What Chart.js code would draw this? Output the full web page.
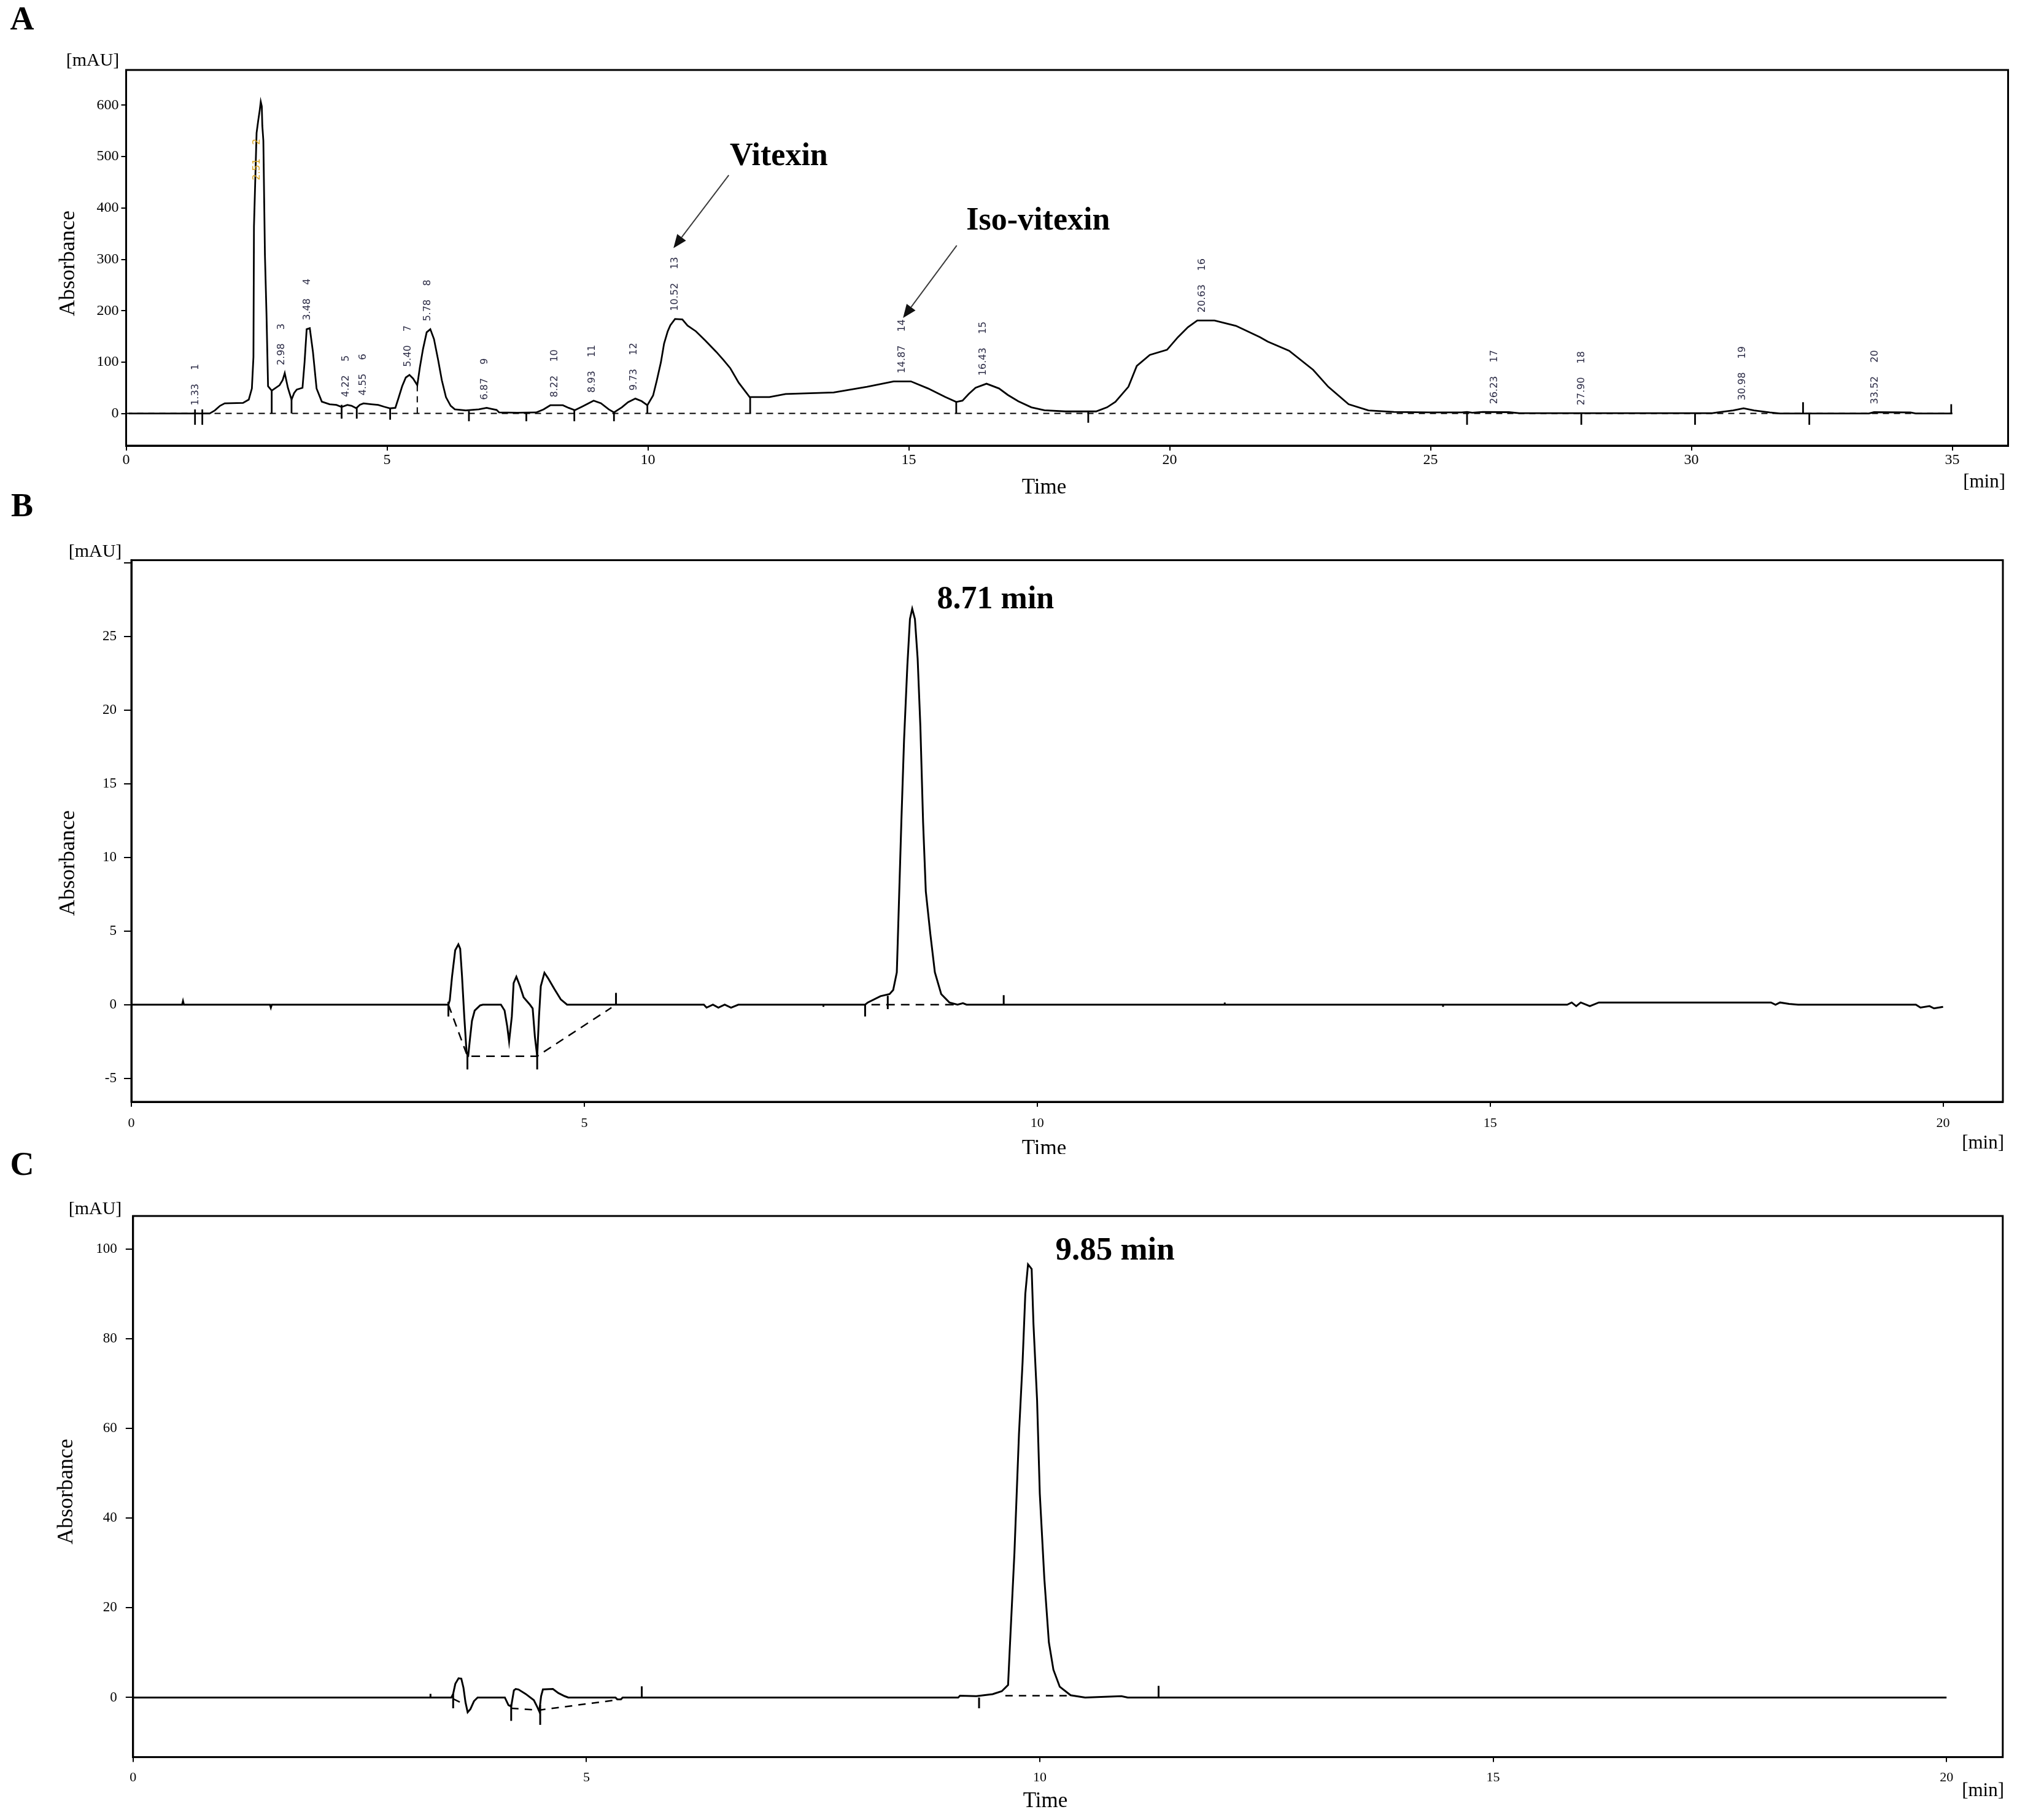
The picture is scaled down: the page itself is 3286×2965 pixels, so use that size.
<!DOCTYPE html>
<html>
<head>
<meta charset="utf-8">
<script src="https://cdn.jsdelivr.net/npm/chart.js@4.4.1/dist/chart.umd.min.js"></script>
<style>
  html, body { margin: 0; padding: 0; background: #fff; }
  body { width: 3286px; height: 2965px; position: relative; overflow: hidden; }
  canvas { position: absolute; left: 0; }
</style>
</head>
<body>
<canvas id="chartA" width="3286" height="830" style="top:0px"></canvas>
<canvas id="chartB" width="3286" height="1090" style="top:790px"></canvas>
<canvas id="chartC" width="3286" height="1105" style="top:1860px"></canvas>
<script>
// ---- Panel A: extract chromatogram (time in min, absorbance in mAU)
const timeA = [0.05, 1.60, 1.70, 1.80, 1.89, 2.00, 2.24, 2.35, 2.41, 2.44, 2.45, 2.50, 2.53, 2.56, 2.58, 2.60, 2.61, 2.63, 2.66, 2.69, 2.72,
  2.79, 2.94, 3.00, 3.04, 3.10, 3.17, 3.22, 3.27, 3.38, 3.42, 3.46, 3.52, 3.58, 3.65, 3.75, 3.90, 4.03, 4.13, 4.24, 4.32, 4.41,
  4.48, 4.55, 4.70, 4.83, 4.95, 5.06, 5.16, 5.22, 5.29, 5.36, 5.43, 5.50, 5.58, 5.63, 5.69, 5.76, 5.83, 5.90, 5.98, 6.05, 6.13,
  6.22, 6.30, 6.51, 6.76, 6.91, 7.00, 7.10, 7.15, 7.50, 7.86, 8.00, 8.13, 8.37, 8.48, 8.60, 8.75, 8.96, 9.10, 9.25, 9.35, 9.50,
  9.62, 9.76, 9.88, 9.99, 10.10, 10.17, 10.25, 10.31, 10.38, 10.43, 10.52, 10.66, 10.76, 10.92, 11.10, 11.31, 11.45, 11.58, 11.74,
  11.95, 12.33, 12.64, 13.56, 14.20, 14.71, 15.04, 15.37, 15.70, 15.91, 16.03, 16.15, 16.28, 16.49, 16.73, 16.90, 17.10, 17.35,
  17.60, 18.00, 18.59, 18.80, 18.96, 19.21, 19.37, 19.62, 19.95, 20.16, 20.35, 20.53, 20.86, 21.27, 21.73, 21.88, 22.29, 22.75,
  23.04, 23.43, 23.81, 24.30, 25.00, 25.60, 25.70, 25.80, 26.00, 26.50, 26.70, 30.40, 30.50, 30.80, 31.00, 31.20, 31.50, 31.70,
  33.40, 33.50, 34.20, 34.30, 35.00];
const absA = [0, 0, 6, 15, 19.7, 20, 20.5, 27, 48.7, 110, 364, 546, 569, 590, 607, 598, 560, 531, 309, 194, 53,
  44.5, 55, 65, 78.5, 50, 27, 40, 46.6, 50, 100, 164, 166, 120, 48.6, 23, 18, 16.7, 12.7, 16.7, 15, 10.3,
  17, 19.7, 18, 16.7, 13, 10, 11, 30, 53, 70, 75, 68, 55, 90, 125.5, 158, 164, 145, 104, 65, 31.7,
  15, 8, 6, 8, 11, 9, 7, 2, 1.5, 2, 8, 16, 16, 11, 6.3, 14, 25, 20, 8, 2, 12,
  22, 29, 24, 16, 35, 64, 100, 136, 160, 171.6, 184, 183, 171, 160, 142, 120, 104, 88, 60,
  32, 32, 38, 41, 52, 62.5, 62.5, 48.7, 32, 22.5, 25, 38, 50, 58, 48.7, 36, 23.7, 12,
  6.2, 4, 4, 12, 22.5, 52, 92.5, 114, 124, 148.7, 168, 181, 181, 170.6, 148.7, 140, 122, 85,
  52, 18, 6, 3, 2, 2, 3, 1.5, 3, 2.5, 0.5, 0.5, 2, 6, 10, 6, 2, 0,
  0, 2.5, 2, 0, 0];
const peakTimesA = ['1.33', '2.51', '2.98', '3.48', '4.22', '4.55', '5.40', '5.78', '6.87', '8.22', '8.93', '9.73', '10.52',
  '14.87', '16.43', '20.63', '26.23', '27.90', '30.98', '33.52'];
const peakNumsA = ['1', '2', '3', '4', '5', '6', '7', '8', '9', '10', '11', '12', '13', '14', '15', '16', '17', '18', '19', '20'];
// integration marks: [time, from, to]
const marksA = [[1.32, 8, -22], [1.46, 8, -22], [2.79, 44, 0], [3.17, 27, 0], [4.13, 17, -10], [4.42, 12, -10], [5.06, 10, -12],
  [6.57, 5, -15], [7.67, 2, -15], [8.59, 6, -15], [9.35, 2, -15], [9.99, 16, 0], [11.96, 32, 0], [15.91, 22.5, 0], [18.44, 3, -18],
  [25.70, 4, -22], [27.89, 0, -22], [30.07, 0, -22], [32.14, 22, 0], [32.26, 0, -22], [34.98, 18, 0]];
const baseA = [[[0, 0], [35, 0]], [[5.58, 55], [5.58, 0]]];
const yTicksA = [0, 100, 200, 300, 400, 500, 600];
const xTicksA = [0, 5, 10, 15, 20, 25, 30, 35];

// ---- Panel B: vitexin standard
const timeB = [0, 0.56, 0.57, 0.58, 1.53, 1.54, 1.55, 3.50, 3.515, 3.54, 3.575, 3.61, 3.63, 3.65, 3.675, 3.70, 3.72, 3.74, 3.76,
  3.79, 3.85, 3.88, 4.08, 4.12, 4.15, 4.17, 4.20, 4.22, 4.25, 4.29, 4.33, 4.40, 4.43, 4.455, 4.48, 4.50, 4.52, 4.56, 4.60, 4.67,
  4.74, 4.81, 6.32, 6.35, 6.42, 6.48, 6.55, 6.62, 6.70, 8.10, 8.13, 8.27, 8.37, 8.41, 8.45, 8.46, 8.50, 8.53, 8.566, 8.595, 8.62,
  8.65, 8.68, 8.71, 8.74, 8.77, 8.82, 8.87, 8.94, 9.03, 9.12, 9.18, 9.22, 15.85, 15.90, 15.95, 16.00, 16.10, 16.20, 16.35, 18.10,
  18.15, 18.20, 18.30, 18.40, 19.70, 19.75, 19.85, 19.90, 20.00];
const absB = [0, 0, 0.25, 0, 0, -0.2, 0, 0, 0.3, 1.9, 3.7, 4.1, 3.8, 1.96, -0.8, -3.2, -3.4, -2.2, -1.1,
  -0.4, -0.05, 0, 0, -0.4, -1.5, -2.5, -0.8, 1.47, 1.9, 1.26, 0.5, 0, -0.25, -2.2, -3.5, -0.8, 1.26, 2.17, 1.8, 1.06,
  0.36, 0, 0, -0.2, 0, -0.2, 0, -0.2, 0, 0, 0.15, 0.58, 0.72, 1.0, 2.2, 4.2, 12.4, 18.0, 23.0, 26.2, 26.9,
  26.2, 23.5, 18.9, 12.4, 7.7, 4.8, 2.2, 0.72, 0.15, 0, 0.1, 0, 0, 0.15, -0.1, 0.15, -0.1, 0.15, 0.15, 0.15,
  0, 0.15, 0.05, 0, 0, -0.2, -0.1, -0.25, -0.15];
const marksB = [[3.50, 0.2, -0.8], [3.71, -3.2, -4.4], [4.48, -3.2, -4.4], [5.35, 0, 0.8], [7.64, 0, -0.15], [8.10, 0, -0.8],
  [8.35, 0.6, -0.3], [9.63, 0, 0.65], [12.07, 0, 0.15], [14.48, 0, -0.15]];
const baseB = [[[3.50, 0], [3.71, -3.5], [4.48, -3.5], [5.30, -0.2]], [[8.17, 0], [9.08, 0]]];
const yTicksB = [-5, 0, 5, 10, 15, 20, 25, 30];
const xTicksB = [0, 5, 10, 15, 20];

// ---- Panel C: iso-vitexin standard
const timeC = [0, 3.51, 3.53, 3.554, 3.59, 3.62, 3.644, 3.666, 3.69, 3.72, 3.76, 3.80, 4.10, 4.14, 4.17, 4.20, 4.22, 4.25, 4.33,
  4.42, 4.46, 4.48, 4.50, 4.52, 4.63, 4.69, 4.76, 4.80, 5.32, 5.34, 5.38, 5.40, 9.10, 9.12, 9.30, 9.48, 9.58, 9.65, 9.67, 9.72,
  9.77, 9.81, 9.84, 9.87, 9.91, 9.93, 9.97, 10.00, 10.05, 10.10, 10.15, 10.22, 10.34, 10.50, 10.90, 10.97, 20.00];
const absC = [0, 0, 0.8, 3.06, 4.3, 4.2, 2.15, -1.05, -3.3, -2.6, -0.8, 0, 0, -1.7, -2.0, 1.6, 1.9, 1.8, 0.8,
  -0.6, -2.2, -3.1, 0.3, 1.8, 1.9, 1.0, 0.3, 0, 0, -0.4, -0.4, 0, 0, 0.4, 0.3, 0.75, 1.4, 2.8, 11.4, 32.2,
  58.7, 74.8, 90, 96.6, 95.6, 83.3, 66.3, 45.4, 26.5, 12.3, 6.2, 2.4, 0.5, 0, 0.3, 0, 0];
const marksC = [[3.28, 0, 0.8], [3.53, 0.8, -2.4], [4.17, -1.5, -5.2], [4.49, -1.7, -6.1], [5.61, 0, 2.5], [9.33, 0, -2.4],
  [11.31, 0, 2.6]];
const baseC = [[[3.53, -0.3], [3.62, -1.2]], [[4.17, -2.4], [4.48, -2.8], [5.35, -0.5]], [[9.62, 0.4], [10.30, 0.4]]];
const yTicksC = [0, 20, 40, 60, 80, 100];
const xTicksC = [0, 5, 10, 15, 20];

const SERIF = '"Liberation Serif", "Times New Roman", serif';

function xy(ts, vs) {
  return ts.map((t, i) => ({x: t, y: vs[i]}));
}
// polylines separated by null gaps
function segs(list) {
  const out = [];
  list.forEach(s => {
    s.forEach(p => out.push({x: p[0], y: p[1]}));
    out.push({x: s[s.length - 1][0], y: null});
  });
  return out;
}
function marks(list) {
  return segs(list.map(m => [[m[0], m[1]], [m[0], m[2]]]));
}
function traceAt(ts, vs, t, w) {
  let best = -Infinity;
  for (let i = 0; i < ts.length - 1; i++) {
    if (ts[i] <= t && ts[i + 1] >= t) {
      const f = (t - ts[i]) / (ts[i + 1] - ts[i] || 1);
      best = Math.max(best, vs[i] + f * (vs[i + 1] - vs[i]));
    }
    if (Math.abs(ts[i] - t) <= w) best = Math.max(best, vs[i]);
  }
  return best;
}

// extra drawing per canvas (frame, titles, annotations)
const DECO = {
  chartA: {
    texts: [
      {text: 'A', x: 36, y: 34, font: 'bold 54px ' + SERIF},
      {text: '[mAU]', x: 151, y: 99, font: '30px ' + SERIF},
      {text: 'Absorbance', x: 112, y: 429, font: '36px ' + SERIF, rot: -Math.PI / 2},
      {text: 'Time', x: 1701, y: 795, font: '35px ' + SERIF},
      {text: '[min]', x: 3267, y: 786, font: '31px ' + SERIF, align: 'right'}
    ],
    dataTexts: [
      {text: 'Vitexin', t: 12.51, v: 499, font: 'bold 52px ' + SERIF},
      {text: 'Iso-vitexin', t: 17.48, v: 374, font: 'bold 52px ' + SERIF}
    ],
    arrows: [[[11.55, 464], [10.49, 322]], [[15.92, 327], [14.89, 186]]],
    peaks: true
  },
  chartB: {
    texts: [
      {text: 'B', x: 36, y: 37, font: 'bold 54px ' + SERIF},
      {text: '[mAU]', x: 155, y: 109, font: '30px ' + SERIF},
      {text: 'Absorbance', x: 112, y: 616, font: '36px ' + SERIF, rot: -Math.PI / 2},
      {text: 'Time', x: 1701, y: 1082, font: '35px ' + SERIF},
      {text: '[min]', x: 3265, y: 1073, font: '31px ' + SERIF, align: 'right'}
    ],
    dataTexts: [{text: '8.71 min', t: 9.54, v: 27.5, font: 'bold 52px ' + SERIF}],
    arrows: []
  },
  chartC: {
    texts: [
      {text: 'C', x: 36, y: 40, font: 'bold 54px ' + SERIF},
      {text: '[mAU]', x: 155, y: 110, font: '30px ' + SERIF},
      {text: 'Absorbance', x: 109, y: 570, font: '36px ' + SERIF, rot: -Math.PI / 2},
      {text: 'Time', x: 1703, y: 1075, font: '35px ' + SERIF},
      {text: '[min]', x: 3265, y: 1058, font: '31px ' + SERIF, align: 'right'}
    ],
    dataTexts: [{text: '9.85 min', t: 10.83, v: 99.5, font: 'bold 53px ' + SERIF}],
    arrows: []
  }
};

const decoPlugin = {
  id: 'deco',
  afterDraw(chart) {
    const o = DECO[chart.canvas.id];
    const {ctx, chartArea: a} = chart;
    const xs = chart.scales.x, ys = chart.scales.y;
    ctx.save();
    ctx.strokeStyle = '#000';
    ctx.lineWidth = 3;
    ctx.strokeRect(a.left, a.top, a.right - a.left, a.bottom - a.top);
    ctx.fillStyle = '#000';
    ctx.textBaseline = 'middle';
    o.texts.forEach(t => {
      ctx.save();
      ctx.font = t.font;
      ctx.textAlign = t.align || 'center';
      ctx.translate(t.x, t.y);
      if (t.rot) ctx.rotate(t.rot);
      ctx.fillText(t.text, 0, 0);
      ctx.restore();
    });
    o.dataTexts.forEach(t => {
      ctx.font = t.font;
      ctx.textAlign = 'center';
      ctx.fillText(t.text, xs.getPixelForValue(t.t), ys.getPixelForValue(t.v));
    });
    // arrows
    ctx.strokeStyle = '#3c3c3c';
    ctx.fillStyle = '#111';
    ctx.lineWidth = 2;
    o.arrows.forEach(ar => {
      const x1 = xs.getPixelForValue(ar[0][0]), y1 = ys.getPixelForValue(ar[0][1]);
      const x2 = xs.getPixelForValue(ar[1][0]), y2 = ys.getPixelForValue(ar[1][1]);
      const ang = Math.atan2(y2 - y1, x2 - x1);
      const len = 22, half = 9;
      const bx = x2 - len * Math.cos(ang), by = y2 - len * Math.sin(ang);
      ctx.beginPath();
      ctx.moveTo(x1, y1);
      ctx.lineTo(bx, by);
      ctx.stroke();
      ctx.beginPath();
      ctx.moveTo(x2, y2);
      ctx.lineTo(bx + half * Math.sin(ang), by - half * Math.cos(ang));
      ctx.lineTo(bx - half * Math.sin(ang), by + half * Math.cos(ang));
      ctx.closePath();
      ctx.fill();
    });
    // peak labels (retention time + peak number), rotated
    if (o.peaks) {
      ctx.font = '16px "DejaVu Sans", sans-serif';
      ctx.textAlign = 'left';
      peakTimesA.forEach((tl, i) => {
        const t = parseFloat(tl);
        let py;
        if (peakNumsA[i] === '2') {
          py = ys.getPixelForValue(454);
          ctx.fillStyle = '#d6a21e';
        } else {
          py = ys.getPixelForValue(traceAt(timeA, absA, t, 0.12)) - 13;
          ctx.fillStyle = '#2b2b45';
        }
        ctx.save();
        ctx.translate(xs.getPixelForValue(t), py);
        ctx.rotate(-Math.PI / 2);
        ctx.fillText(tl, 0, 0);
        ctx.fillText(peakNumsA[i], ctx.measureText(tl).width + 22, 0);
        ctx.restore();
      });
    }
    ctx.restore();
  }
};

function makeChart(id, cfg) {
  return new Chart(document.getElementById(id), {
    type: 'line',
    data: {
      datasets: [
        {data: xy(cfg.time, cfg.abs), borderColor: '#000', borderWidth: cfg.lw},
        {data: marks(cfg.marks), borderColor: '#000', borderWidth: cfg.lw},
        {data: segs(cfg.base), borderColor: '#000', borderWidth: cfg.dashW, borderDash: cfg.dash}
      ]
    },
    options: {
      responsive: false,
      animation: false,
      devicePixelRatio: 1,
      layout: {padding: {top: cfg.padTop, right: cfg.padRight, left: 0, bottom: 0}},
      elements: {point: {radius: 0}, line: {tension: 0}},
      plugins: {legend: {display: false}, tooltip: {enabled: false}},
      scales: {
        x: {
          type: 'linear', min: 0, max: cfg.xMax,
          afterBuildTicks: s => { s.ticks = cfg.xTicks.map(v => ({value: v})); },
          afterFit: s => { s.height = cfg.xH; },
          border: {display: true, color: '#000', width: 3},
          grid: {drawOnChartArea: false, drawTicks: true, tickLength: 8, color: '#000', lineWidth: 2},
          ticks: {color: '#000', padding: cfg.xPad, maxRotation: 0, font: {family: SERIF, size: cfg.xFont},
            callback: v => String(v)}
        },
        y: {
          type: 'linear', min: cfg.yMin, max: cfg.yMax,
          afterBuildTicks: s => { s.ticks = cfg.yTicks.map(v => ({value: v})); },
          afterFit: s => { s.width = cfg.left; },
          border: {display: true, color: '#000', width: 3},
          grid: {drawOnChartArea: false, drawTicks: true, tickLength: cfg.yTick, color: '#000', lineWidth: 2},
          ticks: {color: '#000', padding: cfg.yPad, font: {family: SERIF, size: cfg.yFont},
            callback: v => (v === cfg.hideTick ? '' : String(v))}
        }
      }
    },
    plugins: [decoPlugin]
  });
}

makeChart('chartA', {
  time: timeA, abs: absA, marks: marksA, base: baseA, lw: 2.8, dashW: 2, dash: [10, 8],
  padTop: 114, padRight: 14.5, left: 205.5, xH: 104, xMax: 36.07, yMin: -62.6, yMax: 668.7,
  xTicks: xTicksA, yTicks: yTicksA, xPad: 1, yPad: 4, yTick: 8, xFont: 24, yFont: 24, hideTick: null
});
makeChart('chartB', {
  time: timeB, abs: absB, marks: marksB, base: baseB, lw: 3, dashW: 2.5, dash: [14, 10],
  padTop: 122.6, padRight: 23, left: 214, xH: 85, xMax: 20.66, yMin: -6.6, yMax: 30.2,
  xTicks: xTicksB, yTicks: yTicksB, xPad: 14, yPad: 12, yTick: 12, xFont: 22, yFont: 23, hideTick: 30
});
makeChart('chartC', {
  time: timeC, abs: absC, marks: marksC, base: baseC, lw: 3, dashW: 2.5, dash: [12, 10],
  padTop: 121, padRight: 23.2, left: 216.8, xH: 102.4, xMax: 20.62, yMin: -13.3, yMax: 107.4,
  xTicks: xTicksC, yTicks: yTicksC, xPad: 12, yPad: 14, yTick: 12, xFont: 22, yFont: 23, hideTick: null
});
</script>
</body>
</html>
